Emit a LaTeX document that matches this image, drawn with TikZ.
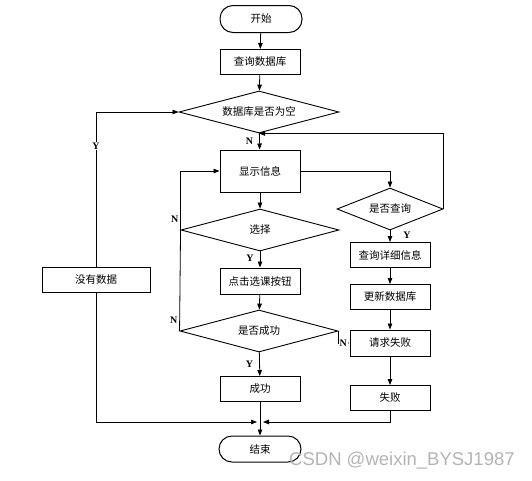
\documentclass[tikz,border=0pt]{standalone}
\usepackage{fontspec}
\setmainfont{Noto Sans CJK SC}
\newfontfamily\ynfont{Liberation Serif}
\newfontfamily\wmfont{Liberation Sans}
\definecolor{WmGray}{HTML}{B4B4B4}
\usetikzlibrary{arrows.meta, shapes.geometric}
\tikzset{
  box/.style={
    rectangle, draw, line width=1pt,
    minimum width=#1, minimum height=25pt,
    inner sep=0pt, font=\fontsize{10.5}{12}\selectfont
  },
  box/.default=80pt,
  term/.style={box=82pt, rounded corners=13pt, minimum height=27pt},
  dec/.style={
    diamond, draw, line width=0.9pt, aspect=4,
    minimum width=#1, minimum height=42pt,
    inner sep=0pt, font=\fontsize{10.5}{12}\selectfont
  },
  dec/.default=158pt,
  arr/.style={-{Triangle[length=6pt, width=4.5pt]}, line width=0.8pt},
  line/.style={line width=0.8pt},
  yn/.style={font=\ynfont\bfseries\fontsize{10}{10}\selectfont, inner sep=1pt},
}

\begin{document}
\begin{tikzpicture}[x=1pt, y=-1pt]
\useasboundingbox (0,0) rectangle (532,480);

% main column
\node[term] at (261,19) (start) {开始};
\node[box] at (260,62) (qdb) {查询数据库};
\node[dec=160pt] at (259,112) (dbe) {数据库是否为空};
\node[box, minimum height=42pt] at (260,171) (show) {显示信息};
\node[dec] at (260,230) (sel) {选择};
\node[box, minimum height=26pt] at (260,281) (click) {点击选课按钮};
\node[dec] at (259,331) (okq) {是否成功};
\node[box] at (260,389) (ok) {成功};
\node[term, minimum height=26pt] at (260,449) (stop) {结束};

% right column
\node[dec=106pt] at (390,209) (askq) {是否查询};
\node[box] at (390,255) (detail) {查询详细信息};
\node[box] at (390,297) (upd) {更新数据库};
\node[box, minimum height=26pt] at (390,343) (reqfail) {请求失败};
\node[box] at (390,398) (fail) {失败};

% left column
\node[box=108pt] at (96,280) (nodata) {没有数据};

\coordinate (joinL) at (257,422);
\coordinate (joinR) at (263,422);

\draw[arr] (start) -- (qdb);
\draw[arr] (qdb) -- (dbe);
\draw[arr] (dbe) -- node[yn, left=5pt, pos=0.5] {N} (show);
\draw[arr] (show) -- (sel);
\draw[arr] (sel) -- node[yn, left=5pt, pos=0.45] {Y} (click);
\draw[arr] (click) -- (okq);
\draw[arr] (okq) -- node[yn, left=5pt, pos=0.5] {Y} (ok);
\draw[arr] (ok) -- (stop);

\draw[arr] (show.east) -| (askq.north);
\draw[arr] (askq) -- node[yn, right=12pt, pos=0.4] {Y} (detail);
\draw[arr] (detail) -- (upd);
\draw[arr] (upd) -- (reqfail);
\draw[arr] (reqfail) -- (fail);
\draw[arr] (askq.east) |- (dbe.south);
\draw[arr] (fail.south) |- (joinR);

\draw[arr] (sel.west) |- (show.west);
\draw[line] (okq.west) -- (sel.west);
\node[yn, above left, xshift=-1pt, yshift=6pt] at (sel.west) {N};
\node[yn, above left, xshift=-1pt, yshift=6pt] at (okq.west) {N};
\draw[arr] (okq.east) |- node[yn, fill=white, pos=0.72] {N} (reqfail.west);

\draw[arr] (nodata.north) |- node[yn, fill=white, pos=0.39] {Y} (dbe.west);
\draw[arr] (nodata.south) |- (joinL);

% watermark
\node[font=\wmfont\fontsize{18.5}{19}\selectfont, text=WmGray, anchor=west, inner sep=0pt] at (289,461) (wm) {CSDN @weixin\_BYSJ1987};

\end{tikzpicture}
\end{document}
